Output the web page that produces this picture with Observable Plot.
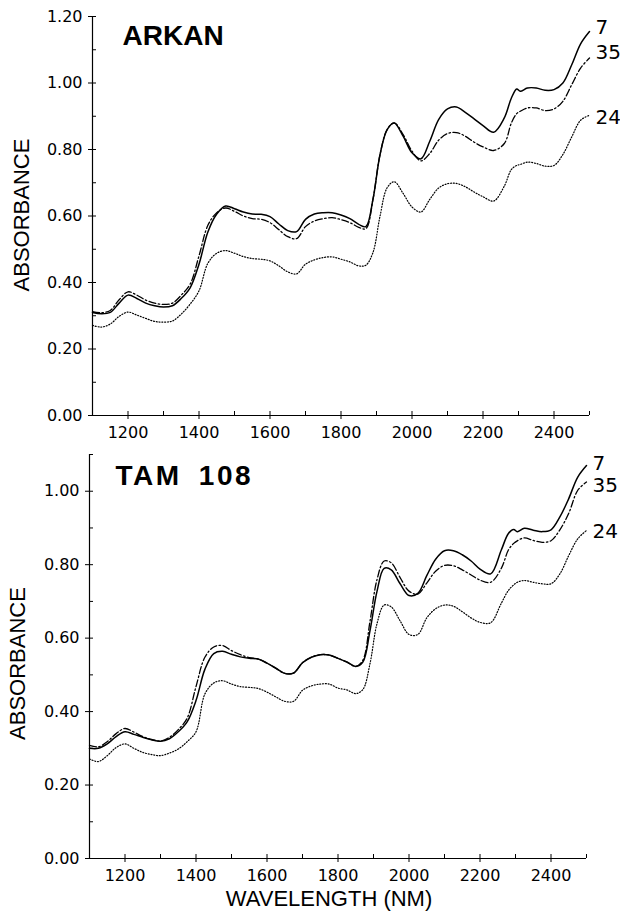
<!DOCTYPE html>
<html><head><meta charset="utf-8">
<script src="https://cdn.jsdelivr.net/npm/d3@7"></script>
<script src="https://cdn.jsdelivr.net/npm/@observablehq/plot@0.6"></script>
<style>
html,body{margin:0;padding:0;background:#fff;}
#chart{width:620px;}
#chart svg{display:block;}
</style></head><body><div id="chart"></div>
<script>
// ---- data ----
const wavelengths = [1100,1125,1150,1175,1200,1225,1250,1275,1300,1325,1350,1375,1400,1425,1450,1475,1500,1525,1550,1575,1600,1625,1650,1675,1700,1725,1750,1775,1800,1825,1850,1870,1890,1910,1930,1950,1975,2000,2025,2050,2075,2100,2125,2150,2175,2200,2230,2260,2280,2295,2305,2325,2350,2375,2400,2425,2450,2475,2500];

const arkan7  = [0.310,0.306,0.310,0.338,0.362,0.352,0.338,0.330,0.326,0.330,0.352,0.384,0.455,0.552,0.606,0.630,0.622,0.612,0.606,0.605,0.598,0.576,0.556,0.553,0.590,0.606,0.610,0.610,0.603,0.592,0.575,0.568,0.650,0.785,0.860,0.880,0.840,0.790,0.772,0.825,0.890,0.922,0.928,0.912,0.892,0.872,0.852,0.895,0.955,0.982,0.975,0.985,0.985,0.978,0.980,1.000,1.055,1.118,1.155];
const arkan35 = [0.312,0.309,0.316,0.348,0.372,0.362,0.347,0.338,0.334,0.338,0.362,0.395,0.480,0.572,0.610,0.624,0.614,0.600,0.592,0.590,0.580,0.559,0.538,0.532,0.568,0.585,0.592,0.595,0.589,0.580,0.566,0.562,0.650,0.785,0.860,0.880,0.845,0.795,0.766,0.788,0.828,0.848,0.851,0.840,0.822,0.808,0.797,0.818,0.880,0.908,0.915,0.925,0.925,0.917,0.922,0.945,0.995,1.045,1.075];
const arkan24 = [0.271,0.266,0.275,0.298,0.311,0.302,0.292,0.283,0.281,0.284,0.305,0.335,0.375,0.458,0.488,0.496,0.488,0.478,0.472,0.470,0.465,0.450,0.432,0.426,0.455,0.468,0.475,0.477,0.470,0.462,0.450,0.452,0.490,0.600,0.685,0.703,0.668,0.627,0.612,0.650,0.684,0.697,0.698,0.688,0.672,0.658,0.645,0.690,0.740,0.752,0.755,0.762,0.758,0.750,0.752,0.785,0.838,0.888,0.903];

const tam7  = [0.300,0.300,0.312,0.332,0.345,0.338,0.330,0.323,0.319,0.326,0.345,0.372,0.430,0.515,0.558,0.564,0.556,0.549,0.545,0.543,0.532,0.518,0.504,0.505,0.533,0.548,0.555,0.554,0.545,0.535,0.523,0.535,0.620,0.728,0.790,0.786,0.748,0.716,0.722,0.770,0.815,0.838,0.838,0.827,0.810,0.788,0.775,0.840,0.885,0.896,0.890,0.899,0.894,0.890,0.895,0.930,0.980,1.038,1.070];
const tam35 = [0.308,0.304,0.318,0.340,0.354,0.344,0.332,0.324,0.320,0.330,0.351,0.382,0.468,0.548,0.576,0.580,0.566,0.555,0.547,0.543,0.532,0.518,0.504,0.505,0.533,0.548,0.555,0.554,0.545,0.535,0.523,0.540,0.645,0.760,0.810,0.805,0.765,0.728,0.720,0.750,0.782,0.798,0.797,0.786,0.772,0.758,0.752,0.790,0.840,0.858,0.865,0.873,0.866,0.861,0.865,0.895,0.940,1.002,1.025];
const tam24 = [0.271,0.264,0.280,0.302,0.312,0.300,0.289,0.283,0.280,0.287,0.298,0.318,0.345,0.448,0.478,0.484,0.475,0.468,0.466,0.463,0.453,0.440,0.428,0.428,0.458,0.470,0.475,0.475,0.464,0.459,0.449,0.460,0.530,0.640,0.690,0.685,0.647,0.610,0.610,0.655,0.680,0.690,0.687,0.672,0.655,0.643,0.642,0.695,0.730,0.745,0.752,0.757,0.752,0.748,0.748,0.775,0.825,0.870,0.893];

const seriesNames = ["7", "35", "24"];
const panelTitles = ["ARKAN", "TAM 108"];
const xMajorTicks = [1200,1400,1600,1800,2000,2200,2400];
const xMinorTicks = [1300,1500,1700,1900,2100,2300,2500];
const yMajorTicksTop = [0,0.2,0.4,0.6,0.8,1.0,1.2];
const yMinorTicksTop = [0.1,0.3,0.5,0.7,0.9,1.1];
const yMajorTicksBottom = [0,0.2,0.4,0.6,0.8,1.0];
const yMinorTicksBottom = [0.1,0.3,0.5,0.7,0.9,1.1];
const xAxisTitle = "WAVELENGTH (NM)";
const yAxisTitle = "ABSORBANCE";

// ---- drawing ----
const lineStyles = {
  "7":  {strokeWidth: 1.5},
  "35": {strokeWidth: 1.3, strokeDasharray: "7,2.5,1.5,2.5"},
  "24": {strokeWidth: 1.2, strokeDasharray: "1,1.8"}
};
const TEXT_FONT = "Liberation Sans, Arial, sans-serif";
const TICK_FONT = "DejaVu Sans, sans-serif";

function panel(o) {
  const table = o.series.flatMap(s => wavelengths.map((w, i) => ({w, v: s.values[i], name: s.name})));
  const lines = o.series.map(s => Plot.line(table.filter(d => d.name === s.name), {
    x: "w", y: "v", curve: "catmull-rom", stroke: "black", ...lineStyles[s.name]
  }));
  const labels = o.series.map((s, k) => Plot.text([{w: wavelengths[wavelengths.length - 1], v: s.values[s.values.length - 1], name: s.name}], {
    x: "w", y: "v", text: "name", textAnchor: "start", dx: 6, dy: o.labelDy[k],
    fontSize: 20, fontFamily: TICK_FONT, fill: "black"
  }));
  const svg = Plot.plot({
    width: 620, height: o.height,
    marginLeft: o.ml, marginRight: o.mr, marginTop: o.mt, marginBottom: o.mb,
    style: {background: "white", color: "black", fontFamily: TICK_FONT},
    x: {domain: [1100, 2500]},
    y: {domain: [0, o.yMax]},
    marks: [
      Plot.ruleX([1100], {stroke: "black", strokeWidth: 1.2}),
      Plot.ruleY([0], {stroke: "black", strokeWidth: 1.2}),
      Plot.axisY(o.yMajor, {tickSize: 8, dx: 4, fill: "none", stroke: "black", label: null}),
      Plot.axisY(o.yMinor, {tickSize: 4, dx: 4, fill: "none", stroke: "black", label: null}),
      Plot.axisX(xMajorTicks, {tickSize: 8, dy: -4, fill: "none", stroke: "black", label: null}),
      Plot.axisX(xMinorTicks, {tickSize: 4, dy: -4, fill: "none", stroke: "black", label: null}),
      Plot.axisY(o.yMajor, {tickSize: 0, tickPadding: 10, fontSize: 16, tickFormat: d3.format(".2f"), label: null}),
      Plot.axisX(xMajorTicks, {tickSize: 0, tickPadding: 11, fontSize: 16, tickFormat: d => String(d), label: null}),
      ...lines,
      ...labels,
      Plot.text([o.title], {frameAnchor: "top-left", textAnchor: "start", lineAnchor: "top", dx: o.titleDx, dy: o.titleDy,
        fontSize: 28, fontWeight: "bold", fontFamily: TEXT_FONT, fill: "black"}),
      Plot.text([yAxisTitle], {frameAnchor: "left", rotate: -90, textAnchor: "middle", lineAnchor: "middle", dx: o.yTitleDx, dy: o.yTitleDy,
        fontSize: 22, fontFamily: TEXT_FONT, fill: "black"}),
      ...(o.xTitle ? [Plot.text([o.xTitle], {frameAnchor: "bottom", textAnchor: "middle", lineAnchor: "middle", dx: -9, dy: 40,
        fontSize: 22, fontFamily: TEXT_FONT, fill: "black"})] : [])
    ]
  });
  if (o.titleSpacing) {
    d3.select(svg).selectAll("text").filter(function () { return this.textContent === o.title; })
      .attr("letter-spacing", o.titleSpacing).attr("word-spacing", o.titleWordSpacing);
  }
  return svg;
}

const topPanel = panel({
  title: panelTitles[0],
  series: [{name: seriesNames[0], values: arkan7}, {name: seriesNames[1], values: arkan35}, {name: seriesNames[2], values: arkan24}],
  labelDy: [-4, -5, 2],
  height: 445, ml: 92, mr: 31, mt: 16, mb: 30, yMax: 1.2,
  yMajor: yMajorTicksTop, yMinor: yMinorTicksTop,
  titleDx: 30, titleDy: 9, titleSpacing: 0,
  yTitleDx: -71, yTitleDy: -1
});
const bottomPanel = panel({
  title: panelTitles[1],
  series: [{name: seriesNames[0], values: tam7}, {name: seriesNames[1], values: tam35}, {name: seriesNames[2], values: tam24}],
  labelDy: [-2, 4, 1],
  height: 467, ml: 89, mr: 34, mt: 9, mb: 54, yMax: 1.1,
  yMajor: yMajorTicksBottom, yMinor: yMinorTicksBottom,
  titleDx: 26, titleDy: 11, titleSpacing: 2.5, titleWordSpacing: 7,
  yTitleDx: -72, yTitleDy: 7,
  xTitle: xAxisTitle
});
document.getElementById("chart").append(topPanel, bottomPanel);
</script></body></html>
